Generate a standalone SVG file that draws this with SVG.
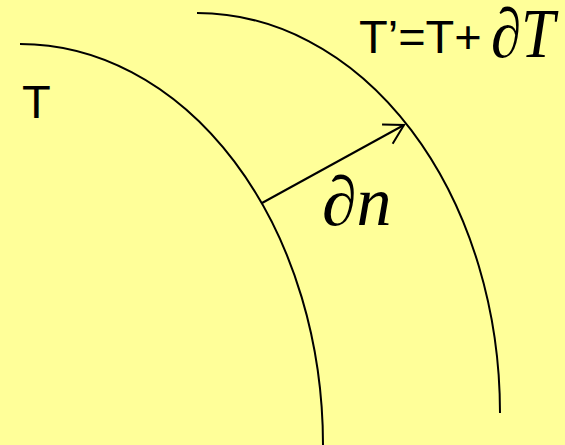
<svg xmlns="http://www.w3.org/2000/svg" width="565" height="445" viewBox="0 0 565 445">
<style>
.curve{fill:none;stroke:#000;stroke-width:2}
.sans{font-family:"Liberation Sans",Arial,sans-serif;font-size:47px;fill:#000}
.math{font-family:"Liberation Serif","Times New Roman",serif;font-style:italic;font-size:70px;fill:#000}
</style>
<defs>
<marker id="open" viewBox="-25 -15 30 30" refX="0" refY="0" markerWidth="30" markerHeight="30" markerUnits="userSpaceOnUse" orient="auto" overflow="visible">
<path d="M-19,-11 L0,0 L-19,11" fill="none" stroke="#000" stroke-width="2"/>
</marker>
</defs>
<rect width="565" height="445" fill="#FFFF99"/>
<g id="isotherm-T">
<path class="curve" d="M20,44 A303,401 0 0 1 323,445"/>
<text class="sans" x="22" y="118">T</text>
</g>
<g id="isotherm-T2">
<path class="curve" d="M197,13 A303,400 0 0 1 500,413"/>
<text class="sans" x="359" y="53">T’=T+</text>
<text class="math" x="491" y="57" textLength="64" lengthAdjust="spacingAndGlyphs">∂T</text>
</g>
<g id="connectors">
<line x1="262" y1="203" x2="404" y2="125" stroke="#000" stroke-width="2" marker-end="url(#open)"/>
<text class="math" x="322" y="225">∂n</text>
</g>
</svg>
